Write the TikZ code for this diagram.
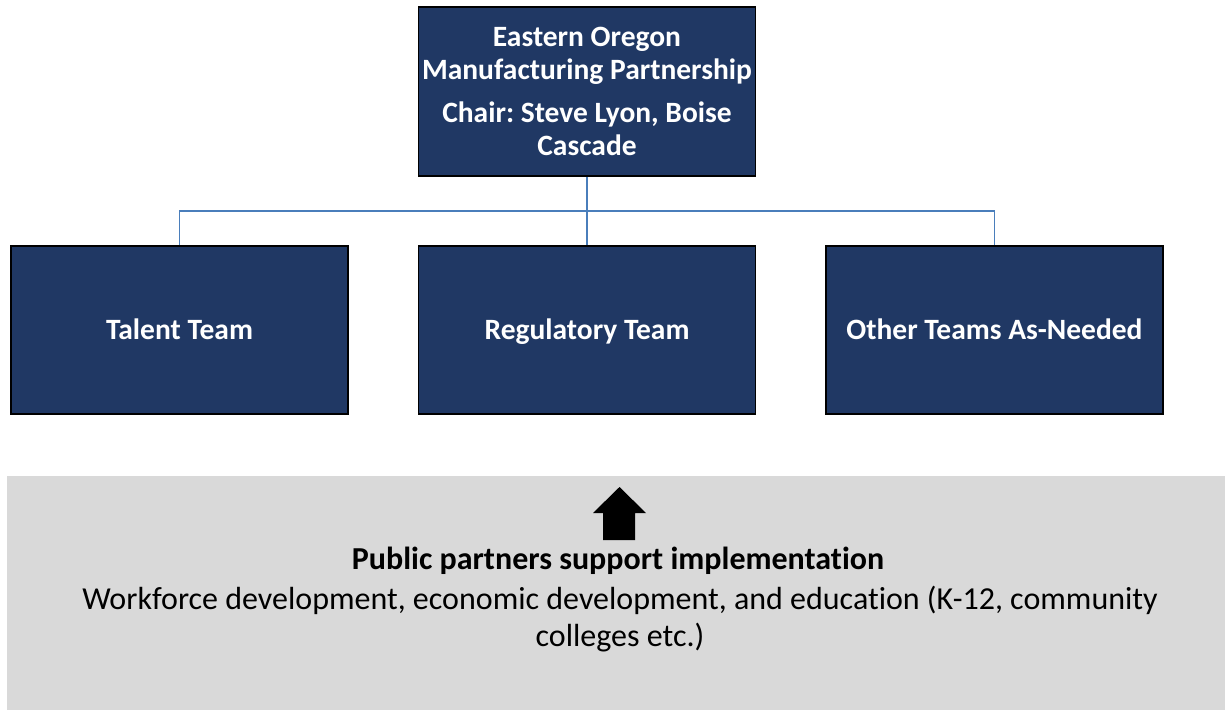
\documentclass[tikz,border=0pt]{standalone}
\usepackage{fontspec}
\setmainfont[Ligatures=NoCommon]{Carlito}
\usepackage{tikz}
\usetikzlibrary{positioning}

\definecolor{teamnavy}{RGB}{32,56,100}
\definecolor{linkblue}{RGB}{74,126,187}
\definecolor{supportgray}{RGB}{217,217,217}

\tikzset{
teambox/.style={draw=black, line width=1.6pt, fill=teamnavy, text=white,
  font=\bfseries\fontsize{29.5}{33}\selectfont, align=center,
  minimum width=337pt, minimum height=168pt, inner sep=0pt},
teamlabel/.style={text height=19pt, text depth=0pt},
link/.style={draw=linkblue, line width=1.2pt}
}
\frenchspacing

\begin{document}
\begin{tikzpicture}[x=1pt,y=-1pt]
\useasboundingbox (0,0) rectangle (1225,710);
\node[teambox, minimum height=169pt] (eomp) at (587,91.5)
{Eastern Oregon\\Manufacturing Partnership\\[10pt]Chair: Steve Lyon, Boise\\Cascade};
\node[teambox, teamlabel] (talent) at (179.5,330) {Talent Team};
\node[teambox, teamlabel] (regulatory) at (587,330) {Regulatory Team};
\node[teambox, teamlabel] (other) at (994.5,330) {Other Teams As-Needed};
\coordinate (bus) at (587,211);
\draw[link] (eomp.south) -- (regulatory.north);
\draw[link] (talent.north) |- (bus) -| (other.north);
% public partners
\fill[supportgray] (7,476) rectangle (1225,710);
\fill[black] (603,540) -- (603,513) -- (593,513) -- (619.5,487) -- (646,513)
  -- (635,513) -- (635,540) -- cycle;
\node[font=\bfseries\fontsize{32}{37}\selectfont, inner sep=0pt] (pubhead) at (618,561)
{Public partners support implementation};
\node[font=\fontsize{32}{37}\selectfont, align=center, inner sep=0pt] (pubtext) at (620,619)
{Workforce development, economic development, and education (K-12, community\\colleges etc.)};
\end{tikzpicture}
\end{document}
